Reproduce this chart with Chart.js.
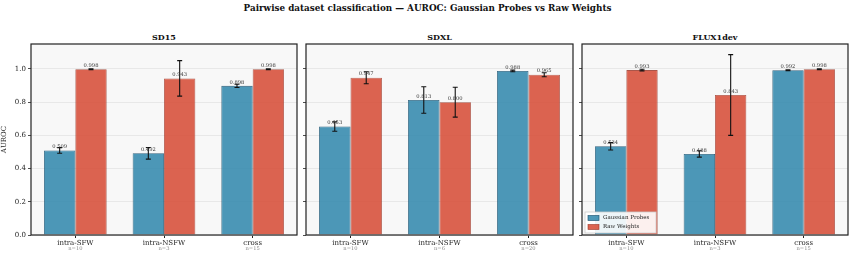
<!DOCTYPE html>
<html>
<head>
<meta charset="utf-8">
<script src="https://cdn.jsdelivr.net/npm/chart.js@4"></script>
<style>
  body { margin:0; background:#fff; width:855px; height:258px; position:relative; overflow:hidden; font-family:"DejaVu Serif", serif; }
  .box { position:absolute; top:0; height:258px; }
  #mainTitle { position:absolute; top:3px; left:0; width:855px; text-align:center; font-weight:bold; font-size:8.8px; color:#111; }
  .sub { position:absolute; top:32px; text-align:center; font-weight:bold; font-size:8px; color:#111; }
</style>
</head>
<body>
<div id="mainTitle">Pairwise dataset classification — AUROC: Gaussian Probes vs Raw Weights</div>
<div class="sub" style="left:31px;width:266px">SD15</div>
<div class="sub" style="left:306px;width:267px">SDXL</div>
<div class="sub" style="left:582px;width:266px">FLUX1dev</div>
<div class="box" style="left:0;width:300px"><canvas id="c1"></canvas></div>
<div class="box" style="left:300px;width:276px"><canvas id="c2"></canvas></div>
<div class="box" style="left:576px;width:279px"><canvas id="c3"></canvas></div>
<script>
const categories = ['intra-SFW','intra-NSFW','cross'];
const seriesNames = ['Gaussian Probes','Raw Weights'];
const yTicks = [0.0,0.2,0.4,0.6,0.8,1.0];

const sd15N = ['n=10','n=3','n=15'];
const sd15Gauss = [0.509,0.492,0.898];
const sd15GaussErr = [0.017,0.035,0.010];
const sd15Raw = [0.998,0.943,0.998];
const sd15RawErr = [0.003,0.107,0.003];

const sdxlN = ['n=10','n=6','n=20'];
const sdxlGauss = [0.653,0.813,0.988];
const sdxlGaussErr = [0.028,0.080,0.005];
const sdxlRaw = [0.947,0.800,0.965];
const sdxlRawErr = [0.036,0.090,0.012];

const fluxN = ['n=10','n=3','n=15'];
const fluxGauss = [0.534,0.488,0.992];
const fluxGaussErr = [0.022,0.019,0.003];
const fluxRaw = [0.993,0.843,0.998];
const fluxRawErr = [0.005,0.243,0.002];

const blue = 'rgba(46,134,171,0.85)';
const red = 'rgba(214,73,51,0.85)';
const FONT = '"DejaVu Serif", serif';

// background + frame + error bars + value labels + n= labels + legend
const extras = {
  id:'extras',
  beforeDraw(chart){
    const a = chart.chartArea, ctx = chart.ctx;
    ctx.save();
    ctx.fillStyle = '#f8f8f8';
    ctx.fillRect(a.left, a.top, a.right-a.left, a.bottom-a.top);
    ctx.restore();
  },
  afterDraw(chart, args, opts){
    const a = chart.chartArea, ctx = chart.ctx, y = chart.scales.y, x = chart.scales.x;
    ctx.save();
    // error bars
    chart.data.datasets.forEach((ds, d) => {
      const meta = chart.getDatasetMeta(d);
      meta.data.forEach((bar, i) => {
        const e = ds.err[i];
        const y1 = y.getPixelForValue(ds.data[i]+e), y2 = y.getPixelForValue(ds.data[i]-e);
        ctx.strokeStyle = '#111'; ctx.lineWidth = 1.1;
        ctx.beginPath();
        ctx.moveTo(bar.x, y1); ctx.lineTo(bar.x, y2);
        ctx.moveTo(bar.x-2.5, y1); ctx.lineTo(bar.x+2.5, y1);
        ctx.moveTo(bar.x-2.5, y2); ctx.lineTo(bar.x+2.5, y2);
        ctx.stroke();
        ctx.fillStyle = '#333';
        ctx.font = '5.2px ' + FONT;
        ctx.textAlign = 'center'; ctx.textBaseline = 'bottom';
        ctx.fillText(ds.data[i].toFixed(3), bar.x, bar.y - 1);
      });
    });
    // n= labels
    ctx.fillStyle = '#888';
    ctx.font = '5.2px ' + FONT;
    ctx.textAlign = 'center'; ctx.textBaseline = 'middle';
    opts.counts.forEach((t, i) => ctx.fillText(t, x.getPixelForTick(i), 249));
    // frame
    ctx.strokeStyle = '#222'; ctx.lineWidth = 1.2;
    ctx.strokeRect(a.left, a.top, a.right-a.left, a.bottom-a.top);
    // legend
    if (opts.legend) {
      const lx = a.left + 3, ly = a.bottom - 23;
      ctx.fillStyle = 'rgba(255,255,255,0.9)';
      ctx.strokeStyle = '#ccc'; ctx.lineWidth = 0.8;
      ctx.fillRect(lx, ly, 71, 21);
      ctx.strokeRect(lx, ly, 71, 21);
      chart.data.datasets.forEach((ds, d) => {
        const cy = ly + 6 + d*9;
        ctx.fillStyle = ds.backgroundColor;
        ctx.fillRect(lx+3, cy-2.5, 11, 5);
        ctx.strokeStyle = ds.borderColor; ctx.lineWidth = 0.7;
        ctx.strokeRect(lx+3, cy-2.5, 11, 5);
        ctx.fillStyle = '#222';
        ctx.font = '5.5px ' + FONT;
        ctx.textAlign = 'left'; ctx.textBaseline = 'middle';
        ctx.fillText(ds.label, lx+18, cy);
      });
    }
    ctx.restore();
  }
};

function makeChart(id, gauss, gaussErr, raw, rawErr, counts, first, padRight, legend){
  return new Chart(document.getElementById(id), {
    type:'bar',
    data:{
      labels: categories,
      datasets:[
        {label:seriesNames[0], data:gauss, err:gaussErr, backgroundColor:blue, borderColor:'rgba(25,80,110,0.9)', borderWidth:0.8},
        {label:seriesNames[1], data:raw, err:rawErr, backgroundColor:red, borderColor:'rgba(150,45,30,0.8)', borderWidth:0.8}
      ]
    },
    options:{
      responsive:true,
      maintainAspectRatio:false,
      animation:false,
      categoryPercentage:0.707,
      barPercentage:1.0,
      layout:{padding:{top:44, right:padRight, bottom:0, left:0}},
      plugins:{
        legend:{display:false},
        tooltip:{enabled:false},
        extras:{counts:counts, legend:legend}
      },
      scales:{
        x:{
          grid:{display:true, drawOnChartArea:false, offset:false, tickLength:3, tickColor:'#222'},
          border:{display:false},
          ticks:{color:'#222', font:{family:FONT, size:7}, padding:1, maxRotation:0},
          afterFit(s){ s.height = 23; }
        },
        y:{
          min:0, max:1.15,
          afterBuildTicks(s){ s.ticks = yTicks.map(v => ({value:v})); },
          grid:{color:'#e3e3e3', lineWidth:0.8, tickLength:3, tickColor:'#222'},
          border:{display:false},
          ticks:{display:first, color:'#222', font:{family:FONT, size:7}, padding:2, callback:v => Number(v).toFixed(1)},
          title:{display:first, text:'AUROC', color:'#222', font:{family:FONT, size:7}, padding:{top:0,bottom:0}},
          afterFit(s){ s.width = first ? 31 : 6; }
        }
      }
    },
    plugins:[extras]
  });
}

makeChart('c1', sd15Gauss, sd15GaussErr, sd15Raw, sd15RawErr, sd15N, true, 3, false);
makeChart('c2', sdxlGauss, sdxlGaussErr, sdxlRaw, sdxlRawErr, sdxlN, false, 3, false);
makeChart('c3', fluxGauss, fluxGaussErr, fluxRaw, fluxRawErr, fluxN, false, 7, true);
</script>
</body>
</html>
